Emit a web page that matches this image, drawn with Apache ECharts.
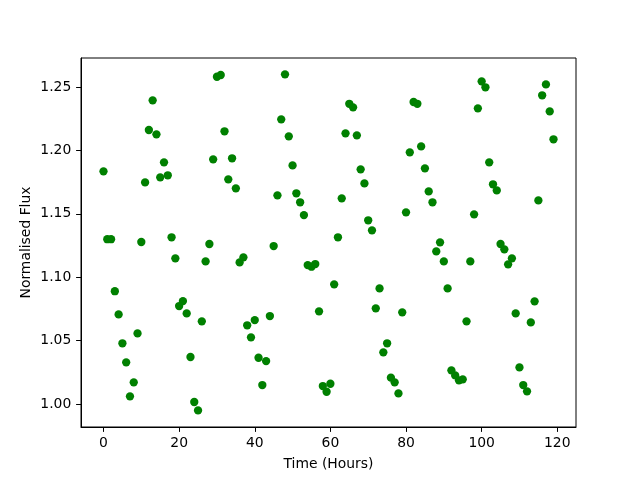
<!DOCTYPE html>
<html><head><meta charset="utf-8">
<script src="https://cdn.jsdelivr.net/npm/echarts@6/dist/echarts.min.js"></script>
<style>html,body{margin:0;padding:0;background:#fff}#c{width:640px;height:480px}</style>
</head><body><div id="c"></div>
<script>
const timeHours = Array.from({length:120},(_,i)=>i);
const flux = [
1.1835,1.130,1.130,1.089,1.0707,1.0479,1.0329,1.0061,1.0171,1.0557,
1.1278,1.1748,1.2161,1.2395,1.2127,1.1788,1.1906,1.1804,1.1315,1.1149,
1.0773,1.0812,1.0715,1.0371,1.0016,0.995,1.0652,1.1125,1.1262,1.193,
1.2581,1.2595,1.2151,1.1772,1.1938,1.1701,1.1117,1.1157,1.0621,1.0526,
1.0662,1.0365,1.015,1.0339,1.0694,1.1246,1.1646,1.2245,1.26,1.2111,
1.1882,1.1662,1.1591,1.149,1.1096,1.1083,1.1104,1.0731,1.0142,1.0097,
1.016,1.0944,1.1315,1.1622,1.2135,1.2368,1.234,1.2119,1.1851,1.174,
1.1449,1.137,1.0755,1.0912,1.0408,1.0479,1.0208,1.0171,1.0084,1.0723,
1.1512,1.1985,1.2382,1.2368,1.2032,1.1859,1.1677,1.1591,1.1204,1.1275,
1.1125,1.0912,1.0266,1.0226,1.0187,1.0195,1.0652,1.1125,1.1496,1.2332,
1.2545,1.2498,1.1906,1.1733,1.1685,1.1262,1.122,1.1102,1.1149,1.0715,
1.0289,1.015,1.01,1.0644,1.081,1.1606,1.2435,1.2521,1.2308,1.2088
];
const xTicks = [0,20,40,60,80,100,120];
const yTicks = [1.00,1.05,1.10,1.15,1.20,1.25];

const chart = echarts.init(document.getElementById('c'), null, {renderer:'canvas'});
const font = 'DejaVu Sans';
chart.setOption({
  animation:false,
  grid:{left:81,right:64,top:58,bottom:53,show:true,borderColor:'#000',borderWidth:1,backgroundColor:'transparent'},
  xAxis:{
    type:'value', min:-5.95, max:124.95,
    name:'Time (Hours)', nameLocation:'middle', nameGap:30, nameMoveOverlap:false,
    nameTextStyle:{fontFamily:font,fontSize:13.9,color:'#000'},
    axisLine:{show:true,onZero:false,lineStyle:{color:'#000',width:1}},
    axisTick:{show:true,inside:false,length:4.9,lineStyle:{color:'#000',width:1},customValues:xTicks},
    axisLabel:{fontFamily:font,fontSize:13.9,color:'#000',margin:9.7,customValues:xTicks,formatter:v=>String(v)},
    splitLine:{show:false}
  },
  yAxis:{
    type:'value', min:0.9819, max:1.2729,
    name:'Normalised Flux', nameLocation:'middle', nameGap:48, nameRotate:90, nameMoveOverlap:false,
    nameTextStyle:{fontFamily:font,fontSize:13.9,color:'#000'},
    axisLine:{show:true,onZero:false,lineStyle:{color:'#000',width:1}},
    axisTick:{show:true,inside:false,length:4.9,lineStyle:{color:'#000',width:1},customValues:yTicks},
    axisLabel:{fontFamily:font,fontSize:13.9,color:'#000',margin:9.7,customValues:yTicks,formatter:v=>v.toFixed(2)},
    splitLine:{show:false}
  },
  series:[{
    type:'scatter',
    data: timeHours.map((t,i)=>[t,flux[i]]),
    symbol:'circle', symbolSize:8.3,
    itemStyle:{color:'#008000',opacity:1},
    clip:false
  }]
});
</script>
</body></html>
